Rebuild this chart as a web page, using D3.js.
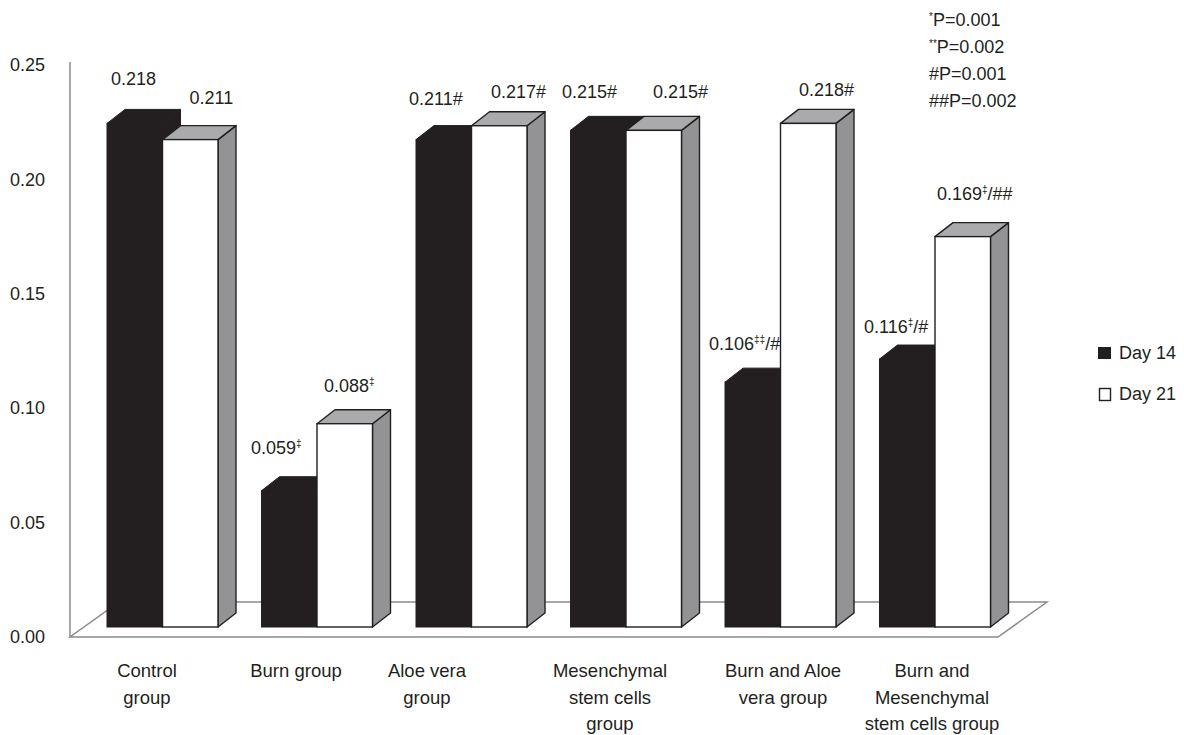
<!DOCTYPE html>
<html>
<head>
<meta charset="utf-8">
<script src="https://cdn.jsdelivr.net/npm/d3@7"></script>
<style>
  html, body { margin: 0; padding: 0; background: #fff; }
  svg text { font-family: "Liberation Sans", Arial, Helvetica, sans-serif; fill: #231f20; }
</style>
</head>
<body>
<svg id="chart" width="1184" height="735"></svg>
<script>
// ---- data ----
const categories = [
  "Control\ngroup",
  "Burn group",
  "Aloe vera\ngroup",
  "Mesenchymal\nstem cells\ngroup",
  "Burn and Aloe\nvera group",
  "Burn and\nMesenchymal\nstem cells group"
];
const seriesNames = ["Day 14", "Day 21"];
const day14 = [0.218, 0.059, 0.211, 0.215, 0.106, 0.116];
const day21 = [0.211, 0.088, 0.217, 0.215, 0.218, 0.169];
// significance marks: superscript part, then plain suffix
const day14Sup = ["", "\u2021", "", "", "\u2021\u2021", "\u2021"];
const day14Suffix = ["", "", "#", "#", "/#", "/#"];
const day21Sup = ["", "\u2021", "", "", "", "\u2021"];
const day21Suffix = ["", "", "#", "#", "#", "/##"];
const yTicks = [0, 0.05, 0.10, 0.15, 0.20, 0.25];
const noteSup = ["*", "**", "", ""];
const noteText = ["P=0.001", "P=0.002", "#P=0.001", "##P=0.002"];

// ---- layout ----
const W = 1184, H = 735;
const DX = 18, DY = -14;          // depth offset of the bar boxes
const barBase = 627;              // front base of the bars
const floorFront = 637, floorBack = 602;
const axisX = 70;
const ink = "#231f20";
const sideGray = "#939395", topGray = "#aaaaac", lineGray = "#8a8a8c";
// value-label nudges (relative to bar front-left corner / top)
const nudge14 = [[4,-38],[-10.5,-37],[-7,-35],[-8.5,-32],[-16,-32],[-15.5,-26]];
const nudge21 = [[27,-36],[7,-32],[19.5,-28],[27,-32],[18.5,-27],[2,-37]];
// category-label shift from group centre
const catShift = [-15.5, -21, -44.5, -16, 2.5, -3];

const svg = d3.select("#chart");

const x = d3.scaleBand().domain(categories).range([107, 990.5])
  .paddingInner(0.2816).paddingOuter(0);
const xs = d3.scaleBand().domain(seriesNames).range([0, x.bandwidth()]);
const yAxisScale = d3.scaleLinear().domain([0, 0.25]).range([floorFront, 65]);
const yBar = d3.scaleLinear().domain([0, 0.25]).range([barBase, barBase - 0.25 * 2310]);

// ---- floor ----
const floorLeft = axisX, floorRight = 998;
svg.append("path")
  .attr("d", d3.line()([
    [floorLeft, floorFront], [floorRight, floorFront],
    [floorRight + 49, floorBack], [floorLeft + 49, floorBack]
  ]) + "Z")
  .attr("fill", "#fff").attr("stroke", lineGray).attr("stroke-width", 1.5);

// ---- value axis ----
svg.append("line")
  .attr("x1", axisX).attr("x2", axisX)
  .attr("y1", 62).attr("y2", floorFront)
  .attr("stroke", lineGray).attr("stroke-width", 1.5);

const yAxis = svg.append("g")
  .attr("transform", `translate(${axisX},0)`)
  .call(d3.axisLeft(yAxisScale).tickValues(yTicks)
    .tickFormat(d3.format(".2f")).tickSize(0).tickPadding(25));
yAxis.select(".domain").remove();
yAxis.selectAll("text")
  .attr("font-size", 18)
  .style("font-family", "'Liberation Sans', Arial, sans-serif")
  .attr("fill", ink);

// ---- bars ----
function drawBox(g, x0, w, v, front, top, side, strokeW) {
  const yt = yBar(v);
  g.append("path")
    .attr("d", d3.line()([[x0 + w, yt], [x0 + w + DX, yt + DY],
      [x0 + w + DX, barBase + DY], [x0 + w, barBase]]) + "Z")
    .attr("fill", side).attr("stroke", ink).attr("stroke-width", strokeW)
    .attr("stroke-linejoin", "round");
  g.append("path")
    .attr("d", d3.line()([[x0, yt], [x0 + DX, yt + DY],
      [x0 + w + DX, yt + DY], [x0 + w, yt]]) + "Z")
    .attr("fill", top).attr("stroke", ink).attr("stroke-width", strokeW)
    .attr("stroke-linejoin", "round");
  g.append("rect")
    .attr("x", x0).attr("y", yt)
    .attr("width", w).attr("height", barBase - yt)
    .attr("fill", front).attr("stroke", ink).attr("stroke-width", strokeW);
}

const bars = svg.append("g");
categories.forEach((c, i) => {
  const g = bars.append("g");
  const x14 = x(c) + xs("Day 14");
  const x21 = x(c) + xs("Day 21");
  drawBox(g, x14, xs.bandwidth(), day14[i], ink, ink, ink, 1);
  drawBox(g, x21, xs.bandwidth(), day21[i], "#fff", topGray, sideGray, 1.4);
});

// ---- value labels ----
function valueLabel(x0, v, sup, suffix, nd) {
  const t = svg.append("text")
    .attr("x", x0 + nd[0]).attr("y", yBar(v) + nd[1])
    .attr("font-size", 18);
  t.append("tspan").text(v.toFixed(3));
  if (sup) {
    t.append("tspan").attr("font-size", 10).attr("dy", -7).text(sup);
    t.append("tspan").attr("dy", 7).text(suffix);
  } else if (suffix) {
    t.append("tspan").text(suffix);
  }
}
categories.forEach((c, i) => {
  valueLabel(x(c) + xs("Day 14"), day14[i], day14Sup[i], day14Suffix[i], nudge14[i]);
  valueLabel(x(c) + xs("Day 21"), day21[i], day21Sup[i], day21Suffix[i], nudge21[i]);
});

// ---- category labels ----
categories.forEach((c, i) => {
  const cx = x(c) + x.bandwidth() / 2 + catShift[i];
  const t = svg.append("text")
    .attr("text-anchor", "middle")
    .attr("font-size", 18.5);
  c.split("\n").forEach((line, k) => {
    t.append("tspan").attr("x", cx).attr("y", 677 + k * 26.5).text(line);
  });
});

// ---- legend ----
const legend = svg.append("g");
legend.append("rect").attr("x", 1098).attr("y", 347).attr("width", 13).attr("height", 12)
  .attr("fill", ink);
legend.append("text").attr("x", 1119).attr("y", 359).attr("font-size", 18).text(seriesNames[0]);
legend.append("rect").attr("x", 1099.5).attr("y", 388.5).attr("width", 11).attr("height", 12)
  .attr("fill", "#fff").attr("stroke", ink).attr("stroke-width", 1.4);
legend.append("text").attr("x", 1119).attr("y", 400).attr("font-size", 18).text(seriesNames[1]);

// ---- significance notes ----
noteText.forEach((txt, k) => {
  const t = svg.append("text").attr("x", 929).attr("y", 26 + k * 27).attr("font-size", 18);
  if (noteSup[k]) {
    t.append("tspan").attr("font-size", 10).attr("dy", -6).text(noteSup[k]);
    t.append("tspan").attr("dy", 6).text(txt);
  } else {
    t.append("tspan").text(txt);
  }
});
</script>
</body>
</html>
